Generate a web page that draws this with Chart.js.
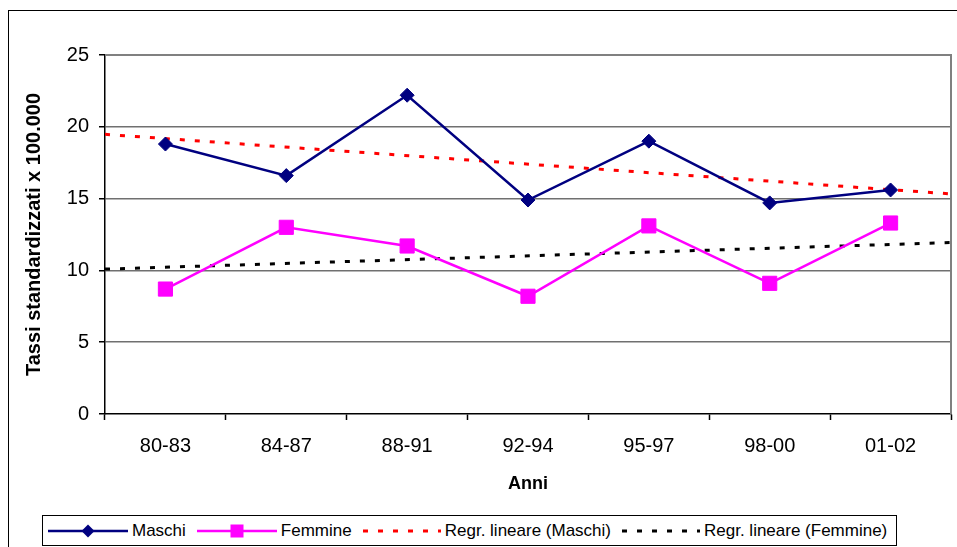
<!DOCTYPE html>
<html>
<head>
<meta charset="utf-8">
<script src="https://cdn.jsdelivr.net/npm/chart.js@4/dist/chart.umd.min.js"></script>
<style>
  html, body { margin: 0; padding: 0; background: #fff; overflow: hidden; }
  #wrap { position: relative; width: 957px; height: 547px; overflow: hidden; }
  #frame { position: absolute; left: 8px; top: 10px; width: 1000px; height: 1000px; border: 1px solid #000; }
  #c { position: absolute; left: 0; top: 0; }
  #legend {
    position: absolute; left: 42px; top: 515px; height: 31px; box-sizing: border-box;
    border: 1px solid #000; background: #fff; display: flex; align-items: center;
    padding: 0 9px 0 5px; gap: 11px;
    font-family: "Liberation Sans", Arial, sans-serif; font-size: 17px; color: #000; white-space: nowrap;
  }
  #legend .item { display: flex; align-items: center; }
  #legend svg { display: block; margin-right: 4px; }
</style>
</head>
<body>
<div id="wrap">
  <div id="frame"></div>
  <canvas id="c" width="957" height="547"></canvas>
  <div id="legend"></div>
</div>
<script>
// Standardised rates per 100,000, by period
const categories = ['80-83', '84-87', '88-91', '92-94', '95-97', '98-00', '01-02'];
const maschi = [18.8, 16.6, 22.2, 14.9, 19.0, 14.7, 15.6];
const femmine = [8.7, 13.0, 11.7, 8.2, 13.1, 9.1, 13.3];
const yTicks = [0, 5, 10, 15, 20, 25];
const seriesNames = ['Maschi', 'Femmine', 'Regr. lineare (Maschi)', 'Regr. lineare (Femmine)'];

const FONT = '"Liberation Sans", Arial, sans-serif';

// Least-squares line over positions 1..n, spanning the full axis (0.5 .. n+0.5)
function trendLine(values) {
  const n = values.length;
  const xs = values.map((_, i) => i + 1);
  const mx = xs.reduce((a, b) => a + b, 0) / n;
  const my = values.reduce((a, b) => a + b, 0) / n;
  let sxy = 0, sxx = 0;
  xs.forEach((x, i) => { sxy += (x - mx) * (values[i] - my); sxx += (x - mx) * (x - mx); });
  const slope = sxy / sxx;
  const at = x => my + slope * (x - mx);
  return [{ x: 0.5, y: at(0.5) }, { x: n + 0.5, y: at(n + 0.5) }];
}

// Top and right edges of the plot frame
const plotFrame = {
  id: 'plotFrame',
  beforeDatasetsDraw(chart) {
    const { ctx, chartArea: a } = chart;
    ctx.save();
    ctx.strokeStyle = '#808080';
    ctx.lineWidth = 2;
    ctx.beginPath();
    ctx.moveTo(a.left, a.top);
    ctx.lineTo(a.right, a.top);
    ctx.lineTo(a.right, a.bottom);
    ctx.stroke();
    ctx.restore();
  }
};

const chart = new Chart(document.getElementById('c'), {
  type: 'line',
  data: {
    labels: categories,
    datasets: [
      {
        label: seriesNames[0], data: maschi, xAxisID: 'x',
        borderColor: '#000080', backgroundColor: '#000080', borderWidth: 2.5,
        pointStyle: 'rectRot', pointRadius: 7, pointBorderWidth: 1,
        pointBackgroundColor: '#000080', pointBorderColor: '#000080', tension: 0, order: 1
      },
      {
        label: seriesNames[1], data: femmine, xAxisID: 'x',
        borderColor: '#FF00FF', backgroundColor: '#FF00FF', borderWidth: 2.5,
        pointStyle: 'rect', pointRadius: 10, pointBorderWidth: 1,
        pointBackgroundColor: '#FF00FF', pointBorderColor: '#FF00FF', tension: 0, order: 2
      },
      {
        label: seriesNames[2], data: trendLine(maschi), xAxisID: 'xt',
        borderColor: '#FF0000', borderWidth: 3, borderDash: [5, 10], borderCapStyle: 'butt',
        pointRadius: 0, tension: 0, order: 3
      },
      {
        label: seriesNames[3], data: trendLine(femmine), xAxisID: 'xt',
        borderColor: '#000000', borderWidth: 3, borderDash: [5, 10], borderCapStyle: 'butt',
        pointRadius: 0, tension: 0, order: 4
      }
    ]
  },
  options: {
    responsive: false,
    animation: false,
    devicePixelRatio: 1,
    layout: { autoPadding: false, padding: { top: 55, right: 6, bottom: 37, left: 0 } },
    plugins: { legend: { display: false }, tooltip: { enabled: false } },
    scales: {
      x: {
        type: 'category',
        offset: true,
        grid: { offset: true, drawOnChartArea: false, drawTicks: true, tickLength: 6, tickColor: '#000', tickWidth: 1.5 },
        border: { display: true, color: '#000', width: 1.5 },
        ticks: { color: '#000', font: { family: FONT, size: 20 }, padding: 14, maxRotation: 0, autoSkip: false },
        title: { display: true, text: 'Anni', color: '#000', font: { family: FONT, size: 18, weight: 'bold' }, padding: { top: 4, bottom: 15 } },
        afterFit(s) { s.height = 96; }
      },
      xt: {
        type: 'linear', display: false, min: 0.5, max: categories.length + 0.5
      },
      y: {
        min: yTicks[0], max: yTicks[yTicks.length - 1],
        afterBuildTicks(s) { s.ticks = yTicks.map(v => ({ value: v })); },
        grid: {
          color: c => (c.tick && c.tick.value === 0) ? 'rgba(0,0,0,0)' : '#707070',
          lineWidth: 1.5, drawTicks: true, tickLength: 6, tickColor: '#000', tickWidth: 1.5
        },
        border: { display: true, color: '#000', width: 1.5 },
        ticks: { color: '#000', font: { family: FONT, size: 20 }, padding: 10 },
        title: { display: true, text: 'Tassi standardizzati x 100.000', color: '#000', font: { family: FONT, size: 20, weight: 'bold' }, padding: { top: 22, bottom: 0 } },
        afterFit(s) { s.width = 105; }
      }
    }
  },
  plugins: [plotFrame]
});

// Legend built from the chart's datasets
(function buildLegend() {
  const legend = document.getElementById('legend');
  const ns = 'http://www.w3.org/2000/svg';
  chart.data.datasets.forEach(ds => {
    const item = document.createElement('div');
    item.className = 'item';
    const w = ds.borderDash ? 78 : 80;
    const svg = document.createElementNS(ns, 'svg');
    svg.setAttribute('width', String(w));
    svg.setAttribute('height', '16');
    const line = document.createElementNS(ns, 'line');
    line.setAttribute('x1', '0'); line.setAttribute('y1', '8');
    line.setAttribute('x2', String(w)); line.setAttribute('y2', '8');
    line.setAttribute('stroke', ds.borderColor);
    line.setAttribute('stroke-width', ds.borderDash ? 3 : 2.5);
    if (ds.borderDash) line.setAttribute('stroke-dasharray', ds.borderDash.join(' '));
    svg.appendChild(line);
    if (ds.pointStyle === 'rectRot') {
      const p = document.createElementNS(ns, 'polygon');
      p.setAttribute('points', '40,1.5 46.5,8 40,14.5 33.5,8');
      p.setAttribute('fill', ds.pointBackgroundColor);
      svg.appendChild(p);
    } else if (ds.pointStyle === 'rect') {
      const r = document.createElementNS(ns, 'rect');
      r.setAttribute('x', '33.5'); r.setAttribute('y', '1.5');
      r.setAttribute('width', '13'); r.setAttribute('height', '13');
      r.setAttribute('fill', ds.pointBackgroundColor);
      svg.appendChild(r);
    }
    const label = document.createElement('span');
    label.textContent = ds.label;
    item.appendChild(svg);
    item.appendChild(label);
    legend.appendChild(item);
  });
})();
</script>
</body>
</html>
